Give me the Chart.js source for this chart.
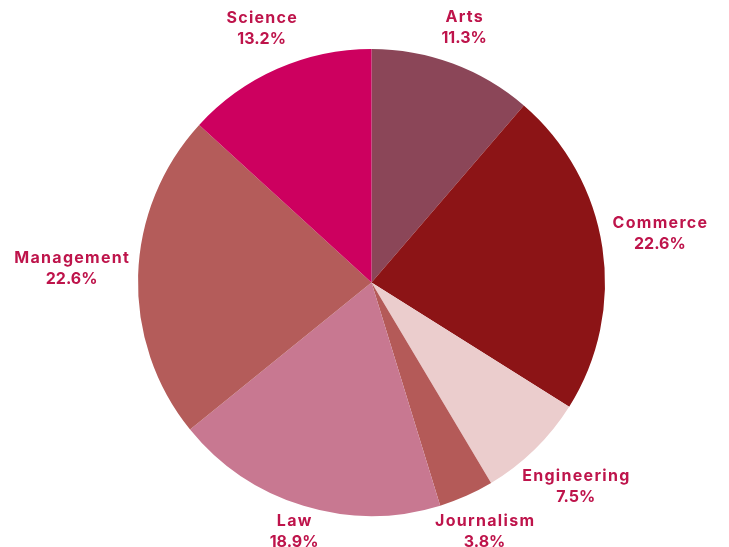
<!DOCTYPE html>
<html>
<head>
<meta charset="utf-8">
<script src="https://cdn.jsdelivr.net/npm/chart.js@4"></script>
<style>
  html, body { margin: 0; padding: 0; background: #ffffff; }
  #wrap { width: 729px; height: 547px; }
</style>
</head>
<body>
<div id="wrap"><canvas id="c" width="729" height="547"></canvas></div>
<script>
const categories = ['Arts', 'Commerce', 'Engineering', 'Journalism', 'Law', 'Management', 'Science'];
const shares = [11.3, 22.6, 7.5, 3.8, 18.9, 22.6, 13.2];
const sliceColors = ['#8B4658', '#8C1416', '#EBCDCD', '#B45A58', '#C87891', '#B45C5A', '#CD005F'];
const labelColor = '#BE144B';
const labelFont = '700 16px Inter, "Noto Sans", sans-serif';
const lineGap = 21;

const outsideLabels = {
  id: 'outsideLabels',
  afterDatasetsDraw(chart) {
    const ctx = chart.ctx;
    const meta = chart.getDatasetMeta(0);
    ctx.save();
    ctx.font = labelFont;
    ctx.fillStyle = labelColor;
    ctx.textAlign = 'center';
    ctx.textBaseline = 'middle';
    meta.data.forEach((arc, i) => {
      const p = arc.getProps(['x', 'y', 'startAngle', 'endAngle', 'outerRadius'], true);
      const mid = (p.startAngle + p.endAngle) / 2;
      const ux = Math.cos(mid), uy = Math.sin(mid);
      const l1 = categories[i];
      const l2 = shares[i].toFixed(1) + '%';
      ctx.letterSpacing = '1.3px';
      const w1 = ctx.measureText(l1).width;
      ctx.letterSpacing = '0px';
      const w2 = ctx.measureText(l2).width;
      const w = Math.max(w1, w2);
      const h = 36;
      const d = p.outerRadius + 8 + (w / 2) * Math.abs(ux) + (h / 2) * Math.abs(uy);
      const cx = p.x + d * ux;
      const cy = p.y + d * uy - 5;
      ctx.letterSpacing = '1.3px';
      ctx.fillText(l1, cx + 0.65, cy - lineGap / 2);
      ctx.letterSpacing = '0px';
      ctx.fillText(l2, cx, cy + lineGap / 2);
    });
    ctx.restore();
  }
};

new Chart(document.getElementById('c'), {
  type: 'pie',
  data: {
    labels: categories,
    datasets: [{
      data: shares,
      backgroundColor: sliceColors,
      borderWidth: 0
    }]
  },
  options: {
    responsive: false,
    animation: false,
    layout: { padding: { left: 130, right: 116, top: 49, bottom: 31 } },
    plugins: {
      legend: { display: false },
      tooltip: { enabled: false }
    }
  },
  plugins: [outsideLabels]
});
</script>
</body>
</html>
